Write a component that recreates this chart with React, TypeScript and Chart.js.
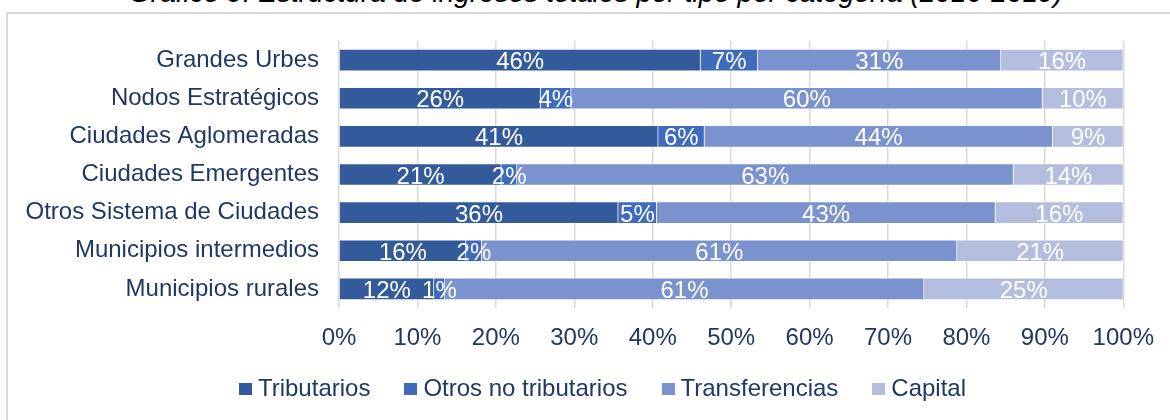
import React, { useEffect, useRef } from "react";
import { Chart, registerables } from "chart.js";

Chart.register(...registerables);

const categories = [
  "Grandes Urbes",
  "Nodos Estratégicos",
  "Ciudades Aglomeradas",
  "Ciudades Emergentes",
  "Otros Sistema de Ciudades",
  "Municipios intermedios",
  "Municipios rurales",
];
const tributarios = [46.1, 25.7, 40.7, 20.7, 35.6, 16.2, 12.1];
const otrosNoTributarios = [7.3, 3.9, 5.9, 2.0, 4.9, 2.0, 1.4];
const transferencias = [31.0, 60.1, 44.4, 63.3, 43.2, 60.6, 61.1];
const capital = [15.6, 10.3, 9.0, 14.0, 16.3, 21.2, 25.4];
const seriesNames = ["Tributarios", "Otros no tributarios", "Transferencias", "Capital"];
const seriesColors = ["#335A9B", "#3E6BBB", "#7A92CE", "#B3BEDF"];
const xTickStep = 10;
const titleText = "Gráfico 9. Estructura de ingresos totales por tipo por categoría (2016-2019)";

const FONT = "'Liberation Sans', Arial, sans-serif";
const NAVY = "#203864";

const barLabels = {
  id: "barLabels",
  afterDatasetsDraw(chart: any) {
    const ctx = chart.ctx;
    ctx.save();
    ctx.font = `24px ${FONT}`;
    ctx.fillStyle = "#FFFFFF";
    ctx.textAlign = "center";
    ctx.textBaseline = "alphabetic";
    chart.data.datasets.forEach((ds: any, di: number) => {
      const meta = chart.getDatasetMeta(di);
      meta.data.forEach((el: any, i: number) => {
        const v = ds.data[i];
        const cx = (el.x + el.base) / 2;
        ctx.fillText(Math.round(v) + "%", cx, el.y + 9);
      });
    });
    ctx.restore();
  },
};

export default function App() {
  const ref = useRef<HTMLCanvasElement | null>(null);

  useEffect(() => {
    document.body.style.margin = "0";
    const series = [tributarios, otrosNoTributarios, transferencias, capital];
    const chart = new Chart(ref.current as HTMLCanvasElement, {
      type: "bar",
      data: {
        labels: categories,
        datasets: series.map((d, i) => ({
          label: seriesNames[i],
          data: d,
          backgroundColor: seriesColors[i],
          borderColor: "rgba(255,255,255,0.45)",
          borderWidth: 1,
          borderSkipped: "start",
          barThickness: 22,
        })),
      },
      options: {
        indexAxis: "y",
        responsive: false,
        animation: false,
        maintainAspectRatio: false,
        layout: { padding: { left: 0, right: 43, top: 41, bottom: 62 } },
        plugins: {
          legend: { display: false },
          title: { display: false },
          tooltip: { enabled: false },
        },
        scales: {
          x: {
            stacked: true,
            min: 0,
            max: 100,
            ticks: {
              stepSize: xTickStep,
              padding: 16,
              color: NAVY,
              font: { family: FONT, size: 24 },
              callback: (v: any) => v + "%",
            },
            grid: { color: "#D9D9D9", lineWidth: 1.5, drawTicks: false },
            border: { display: false },
            afterFit: (s: any) => {
              s.height = 50;
            },
          },
          y: {
            stacked: true,
            ticks: {
              padding: 20,
              color: NAVY,
              font: { family: FONT, size: 24 },
            },
            grid: { display: false, drawTicks: false },
            border: { display: false },
            afterFit: (s: any) => {
              s.width = 339;
            },
          },
        },
      },
      plugins: [barLabels],
    } as any);
    return () => chart.destroy();
  }, []);

  return (
    <div style={{ position: "relative", width: 1170, height: 420, overflow: "hidden", background: "#fff" }}>
      <div
        style={{
          position: "absolute",
          left: 6,
          top: 12,
          width: 1300,
          height: 600,
          border: "2px solid #D9D9D9",
          boxSizing: "border-box",
        }}
      />
      <div
        style={{
          position: "absolute",
          top: -21,
          left: 0,
          width: 1170,
          paddingLeft: 22,
          boxSizing: "border-box",
          textAlign: "center",
          fontFamily: FONT,
          fontStyle: "italic",
          fontSize: 28,
          lineHeight: "28px",
          color: "#000",
          whiteSpace: "nowrap",
        }}
      >
        {titleText}
      </div>
      <canvas ref={ref} width={1170} height={420} style={{ position: "absolute", left: 0, top: 0 }} />
      <div
        style={{
          position: "absolute",
          top: 374,
          left: 0,
          width: 1170,
          paddingLeft: 35,
          boxSizing: "border-box",
          display: "flex",
          justifyContent: "center",
          gap: 34,
          fontFamily: FONT,
          fontSize: 24,
          lineHeight: "28px",
          color: NAVY,
          whiteSpace: "nowrap",
        }}
      >
        {seriesNames.map((n, i) => (
          <div key={n} style={{ display: "flex", alignItems: "center" }}>
            <span
              style={{
                display: "inline-block",
                width: 13,
                height: 12,
                background: seriesColors[i],
                marginRight: 6,
                marginTop: 2,
              }}
            />
            <span>{n}</span>
          </div>
        ))}
      </div>
    </div>
  );
}
